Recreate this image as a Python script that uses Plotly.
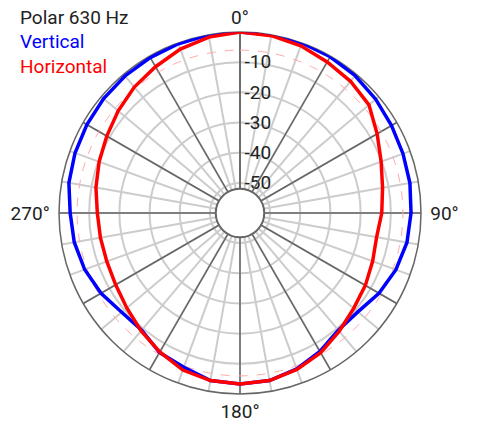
import plotly.graph_objects as go

# углы (град) и уровни (дБ)
angles = [0, 10, 20, 30, 40, 50, 60, 70, 80, 90, 100, 110, 120, 130, 140, 150, 160, 170,
          180, 190, 200, 210, 220, 230, 240, 250, 260, 270, 280, 290, 300, 310, 320, 330, 340, 350]

vertical_db = [0, 0, 0, -0.2, -0.6, -1.3, -2.0, -2.5, -2.8, -3.3, -3.8, -5.0, -6.8, -9.0, -9.3,
               -7.0, -5.0, -3.6, -3.3, -3.6, -5.6, -6.6, -9.3, -8.8, -6.8, -5.2, -4.2, -3.7,
               -2.4, -1.8, -1.4, -1.0, -0.7, -0.5, -0.3, 0]

horizontal_db = [0, -0.3, -1.0, -2.2, -3.0, -4.2, -7.5, -10.2, -12.0, -13.0, -14.0, -13.2, -12.0,
                 -10.8, -8.8, -6.5, -4.8, -3.6, -3.3, -3.6, -4.6, -6.8, -9.0, -11.0, -12.4, -13.0,
                 -13.0, -12.7, -11.5, -10.3, -9.0, -7.3, -5.5, -4.0, -2.2, -0.8]

radial_ticks = [-10, -20, -30, -40, -50]
r_min, r_max = -52, 0
ref_level = -6  # розовая пунктирная окружность

fig = go.Figure()

# тёмные радиальные линии каждые 30°
major_r, major_t = [], []
for a in range(0, 360, 30):
    major_r += [r_min, r_max, None]
    major_t += [a, a, None]
fig.add_trace(go.Scatterpolar(r=major_r, theta=major_t, mode='lines',
                              line=dict(color='#666666', width=1.5),
                              showlegend=False, hoverinfo='skip'))

# внутренняя окружность (граница отверстия)
circle_t = list(range(0, 361, 2))
fig.add_trace(go.Scatterpolar(r=[r_min + 0.15] * len(circle_t), theta=circle_t, mode='lines',
                              line=dict(color='#666666', width=1.5),
                              showlegend=False, hoverinfo='skip'))

# опорный уровень -6 дБ
fig.add_trace(go.Scatterpolar(r=[ref_level] * len(circle_t), theta=circle_t, mode='lines',
                              line=dict(color='#ffaaaa', width=1, dash='dash'),
                              showlegend=False, hoverinfo='skip'))

fig.add_trace(go.Scatterpolar(r=vertical_db + [vertical_db[0]], theta=angles + [360],
                              mode='lines', name='Vertical',
                              line=dict(color='#0000ff', width=3.5), showlegend=False))
fig.add_trace(go.Scatterpolar(r=horizontal_db + [horizontal_db[0]], theta=angles + [360],
                              mode='lines', name='Horizontal',
                              line=dict(color='#ff0000', width=3.5), showlegend=False))

tick_vals = list(range(0, 360, 10))
side_labels = {0: '0°', 90: '\u00a090°', 180: '180°', 270: '270°\u00a0'}
tick_text = [side_labels.get(a, '') for a in tick_vals]

fig.update_layout(
    width=479, height=423,
    margin=dict(l=59, r=58, t=32, b=29),
    paper_bgcolor='white',
    font=dict(family='Roboto', size=19, color='#222222'),
    polar=dict(
        bgcolor='white',
        hole=24 / 181,
        angularaxis=dict(
            rotation=90, direction='clockwise',
            tickmode='array', tickvals=tick_vals, ticktext=tick_text,
            showgrid=True, gridcolor='#cccccc', gridwidth=1.5,
            showline=True, linecolor='#666666', linewidth=1.5,
            ticks='', layer='below traces',
        ),
        radialaxis=dict(
            range=[r_min, r_max], angle=90, side='clockwise',
            tickmode='array', tickvals=radial_ticks, ticktext=[str(v) for v in radial_ticks],
            showgrid=True, gridcolor='#cccccc', gridwidth=1.5,
            showline=True, linecolor='#666666', linewidth=1.5,
            ticks='', tickangle=90, layer='below traces',
        ),
    ),
    annotations=[
        dict(text='Polar 630 Hz', x=-0.113, y=1.04, xref='paper', yref='paper',
             xanchor='left', yanchor='middle', showarrow=False,
             font=dict(size=19, color='#222222')),
        dict(text='Vertical', x=-0.113, y=0.975, xref='paper', yref='paper',
             xanchor='left', yanchor='middle', showarrow=False,
             font=dict(size=19, color='#0000ff')),
        dict(text='Horizontal', x=-0.113, y=0.906, xref='paper', yref='paper',
             xanchor='left', yanchor='middle', showarrow=False,
             font=dict(size=19, color='#ff0000')),
    ],
)

# убираем стандартный отступ body, чтобы фигура заняла окно целиком
fig.write_html("out.html", config={'displayModeBar': False},
               post_script="document.body.style.margin='0px';")
